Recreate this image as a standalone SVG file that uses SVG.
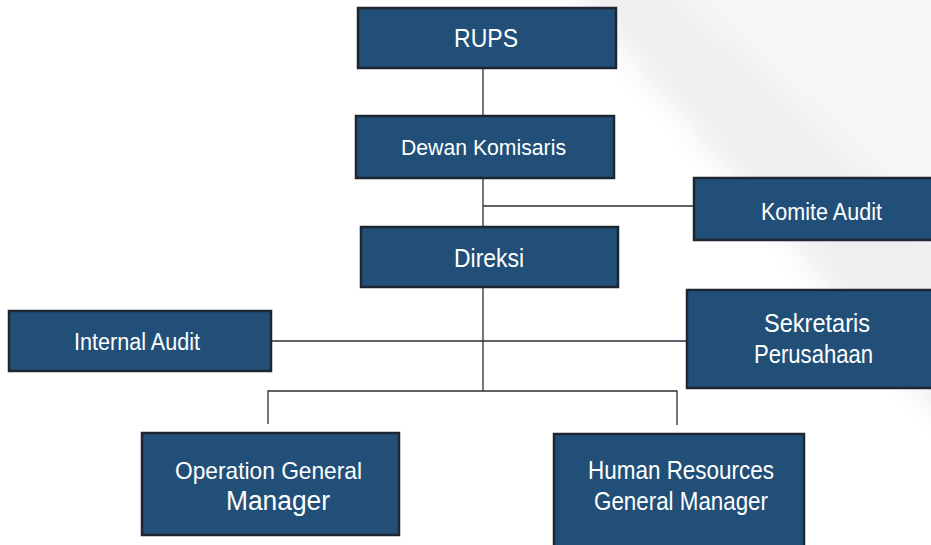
<svg xmlns="http://www.w3.org/2000/svg" width="931" height="545" viewBox="0 0 931 545">
<defs>
<filter id="soft" x="-20%" y="-20%" width="140%" height="140%">
<feGaussianBlur stdDeviation="14"/>
</filter>
</defs>
<style>
.box{fill:#214f78;stroke:#1d2733;stroke-width:2.5}
.t{fill:#ffffff;font-family:"Liberation Sans",Arial,sans-serif;text-anchor:middle}
.ln{stroke:#2a2f36;stroke-width:1.3;fill:none}
</style>
<rect width="931" height="545" fill="#ffffff"/>
<g filter="url(#soft)">
<polygon points="545,-40 980,-40 980,460" fill="#efefef"/>
<polygon points="640,-40 980,-40 980,280" fill="#f6f6f6"/>
</g>
<g id="connectors">
<line class="ln" x1="483" y1="68" x2="483" y2="116"/>
<line class="ln" x1="483" y1="178" x2="483" y2="227"/>
<line class="ln" x1="483" y1="206" x2="694" y2="206"/>
<line class="ln" x1="483" y1="287" x2="483" y2="391"/>
<line class="ln" x1="271" y1="341" x2="687" y2="341"/>
<polyline class="ln" points="268,424 268,391 677,391 677,425"/>
</g>
<g id="rups">
<rect class="box" x="358" y="8" width="258" height="60"/>
<text class="t" x="486" y="47" font-size="25" textLength="64" lengthAdjust="spacingAndGlyphs">RUPS</text>
</g>
<g id="dewan-komisaris">
<rect class="box" x="356" y="116" width="258" height="62"/>
<text class="t" x="483.5" y="155" font-size="22" textLength="165" lengthAdjust="spacingAndGlyphs">Dewan Komisaris</text>
</g>
<g id="komite-audit">
<rect class="box" x="694" y="178" width="240" height="62"/>
<text class="t" x="821.5" y="220" font-size="23" textLength="121" lengthAdjust="spacingAndGlyphs">Komite Audit</text>
</g>
<g id="direksi">
<rect class="box" x="361" y="227" width="257" height="60"/>
<text class="t" x="489" y="267" font-size="26" textLength="70" lengthAdjust="spacingAndGlyphs">Direksi</text>
</g>
<g id="internal-audit">
<rect class="box" x="9" y="311" width="262" height="60"/>
<text class="t" x="137" y="350" font-size="23" textLength="126" lengthAdjust="spacingAndGlyphs">Internal Audit</text>
</g>
<g id="sekretaris-perusahaan">
<rect class="box" x="687" y="290" width="247" height="98"/>
<text class="t" x="817" y="332" font-size="25" textLength="106" lengthAdjust="spacingAndGlyphs">Sekretaris</text>
<text class="t" x="813.5" y="363" font-size="25" textLength="119" lengthAdjust="spacingAndGlyphs">Perusahaan</text>
</g>
<g id="operation-gm">
<rect class="box" x="142" y="433" width="257" height="102"/>
<text class="t" x="268.5" y="479" font-size="24" textLength="187" lengthAdjust="spacingAndGlyphs">Operation General</text>
<text class="t" x="278" y="510" font-size="27" textLength="104" lengthAdjust="spacingAndGlyphs">Manager</text>
</g>
<g id="hr-gm">
<rect class="box" x="554" y="434" width="250" height="115"/>
<text class="t" x="681" y="479" font-size="25" textLength="186" lengthAdjust="spacingAndGlyphs">Human Resources</text>
<text class="t" x="681" y="510" font-size="25" textLength="174" lengthAdjust="spacingAndGlyphs">General Manager</text>
</g>
</svg>
